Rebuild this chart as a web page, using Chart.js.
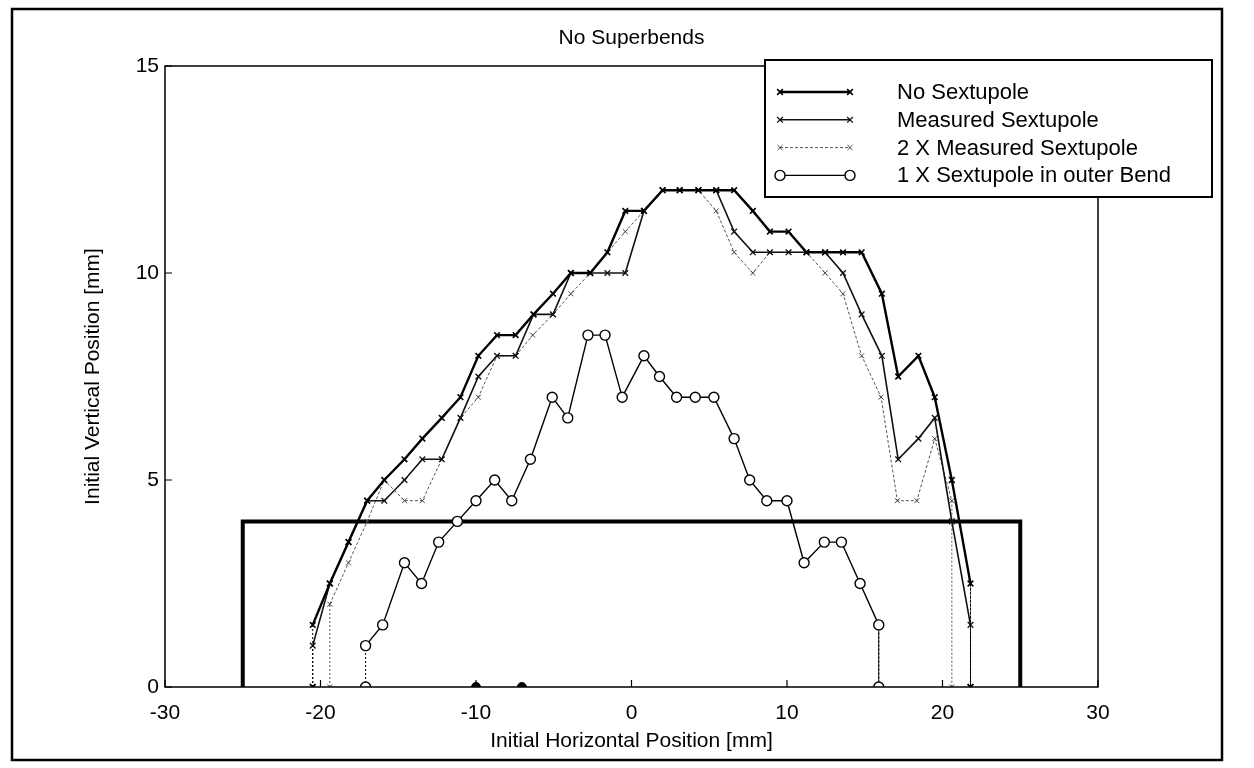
<!DOCTYPE html>
<html>
<head>
<meta charset="utf-8">
<script src="https://cdn.jsdelivr.net/npm/chart.js@4.4.1/dist/chart.umd.min.js"></script>
<style>
body { margin: 0; background: #fff; }
#wrap { width: 1254px; height: 768px; }
</style>
</head>
<body>
<div id="wrap"><canvas id="myChart" width="1254" height="768"></canvas></div>
<script>
// values [mm]
const noSextX = [-20.5, -20.5, -19.4, -18.2, -17.0, -15.9, -14.6, -13.45, -12.2, -11.0, -9.85, -8.65, -7.45, -6.3, -5.05, -3.9, -2.65, -1.55, -0.4, 0.8, 2.0, 3.1, 4.3, 5.45, 6.6, 7.8, 8.9, 10.1, 11.25, 12.45, 13.6, 14.8, 16.1, 17.15, 18.45, 19.5, 20.6, 21.8, 21.8];
const noSextY = [0, 1.5, 2.5, 3.5, 4.5, 5.0, 5.5, 6.0, 6.5, 7.0, 8.0, 8.5, 8.5, 9.0, 9.5, 10, 10, 10.5, 11.5, 11.5, 12, 12, 12, 12, 12, 11.5, 11, 11, 10.5, 10.5, 10.5, 10.5, 9.5, 7.5, 8.0, 7.0, 5.0, 2.5, 0];

const measX = [-20.5, -20.5, -19.4, -18.2, -17.0, -15.9, -14.6, -13.45, -12.2, -11.0, -9.85, -8.65, -7.45, -6.3, -5.05, -3.9, -2.65, -1.55, -0.4, 0.8, 2.0, 3.1, 4.3, 5.45, 6.6, 7.8, 8.9, 10.1, 11.25, 12.45, 13.6, 14.8, 16.1, 17.15, 18.45, 19.5, 20.6, 21.8, 21.8];
const measY = [0, 1.0, 2.5, 3.5, 4.5, 4.5, 5.0, 5.5, 5.5, 6.5, 7.5, 8.0, 8.0, 9.0, 9.0, 10, 10, 10, 10, 11.5, 12, 12, 12, 12, 11.0, 10.5, 10.5, 10.5, 10.5, 10.5, 10.0, 9.0, 8.0, 5.5, 6.0, 6.5, 4.0, 1.5, 0];

const twoX = [-19.4, -19.4, -18.2, -17.0, -15.9, -14.6, -13.45, -12.2, -11.0, -9.85, -8.65, -7.45, -6.35, -5.05, -3.9, -2.65, -1.55, -0.4, 0.8, 2.0, 3.1, 4.3, 5.45, 6.6, 7.8, 8.9, 10.1, 11.25, 12.45, 13.6, 14.8, 16.05, 17.1, 18.35, 19.5, 20.6, 20.6];
const twoY = [0, 2.0, 3.0, 4.0, 5.0, 4.5, 4.5, 5.5, 6.5, 7.0, 8.0, 8.0, 8.5, 9.0, 9.5, 10.0, 10.5, 11.0, 11.5, 12, 12, 12, 11.5, 10.5, 10.0, 10.5, 10.5, 10.5, 10.0, 9.5, 8.0, 7.0, 4.5, 4.5, 6.0, 4.5, 0];

const outerX = [-17.1, -17.1, -16.0, -14.6, -13.5, -12.4, -11.2, -10.0, -8.8, -7.7, -6.5, -5.1, -4.1, -2.8, -1.7, -0.6, 0.8, 1.8, 2.9, 4.1, 5.3, 6.6, 7.6, 8.7, 10.0, 11.1, 12.4, 13.5, 14.7, 15.9, 15.9];
const outerY = [0, 1.0, 1.5, 3.0, 2.5, 3.5, 4.0, 4.5, 5.0, 4.5, 5.5, 7.0, 6.5, 8.5, 8.5, 7.0, 8.0, 7.5, 7.0, 7.0, 7.0, 6.0, 5.0, 4.5, 4.5, 3.0, 3.5, 3.5, 2.5, 1.5, 0];

const dotX = [-10.0, -7.05];
const dotY = [0, 0];

const boxX = [-25, -25, 25, 25];
const boxY = [0, 4, 4, 0];

const xTicks = [-30, -20, -10, 0, 10, 20, 30];
const yTicks = [0, 5, 10, 15];

const labels = ["No Sextupole", "Measured Sextupole", "2 X Measured Sextupole", "1 X Sextupole in outer Bend"];

function pts(xs, ys) {
    return xs.map((x, i) => ({ x: x, y: ys[i] }));
}

const FONT = '"Liberation Sans", Arial, sans-serif';

// vertical drop lines at the ends are drawn thin and dotted in the original
const dropSeg = {
    borderWidth: ctx => ctx.p0.parsed.x === ctx.p1.parsed.x ? 1 : undefined,
    borderDash: ctx => ctx.p0.parsed.x === ctx.p1.parsed.x ? [2, 2] : undefined
};

const plotFrame = {
    id: "plotFrame",
    afterDraw(chart) {
        const ctx = chart.ctx;
        const a = chart.chartArea;
        const xs = chart.scales.x;
        const ys = chart.scales.y;
        ctx.save();
        ctx.strokeStyle = "#000";

        // axes box
        ctx.lineWidth = 1.5;
        ctx.strokeRect(a.left, a.top, a.right - a.left, a.bottom - a.top);

        // inner ticks
        ctx.lineWidth = 1.2;
        ctx.beginPath();
        xTicks.forEach(v => {
            const px = xs.getPixelForValue(v);
            ctx.moveTo(px, a.bottom);
            ctx.lineTo(px, a.bottom - 7);
        });
        yTicks.forEach(v => {
            const py = ys.getPixelForValue(v);
            ctx.moveTo(a.left, py);
            ctx.lineTo(a.left + 7, py);
        });
        ctx.stroke();

        // figure border
        ctx.lineWidth = 2.5;
        ctx.strokeRect(12, 9, 1210, 751);

        // title
        ctx.fillStyle = "#000";
        ctx.font = "21px " + FONT;
        ctx.textAlign = "center";
        ctx.textBaseline = "middle";
        ctx.fillText("No Superbends", (a.left + a.right) / 2, 38);

        // legend
        const lx = 765, ly = 60, lw = 447, lh = 137;
        ctx.fillStyle = "#fff";
        ctx.fillRect(lx, ly, lw, lh);
        ctx.lineWidth = 2;
        ctx.strokeRect(lx, ly, lw, lh);
        ctx.textAlign = "left";
        ctx.font = "22px " + FONT;
        for (let i = 0; i < 4; i++) {
            const ds = chart.data.datasets[i];
            const y = 92 + i * 27.8;
            ctx.save();
            ctx.strokeStyle = ds.borderColor;
            ctx.lineWidth = ds.borderWidth;
            ctx.setLineDash(ds.borderDash || []);
            ctx.beginPath();
            ctx.moveTo(780, y);
            ctx.lineTo(850, y);
            ctx.stroke();
            ctx.setLineDash([]);
            ctx.lineWidth = ds.pointBorderWidth;
            ctx.strokeStyle = ds.pointBorderColor;
            ctx.fillStyle = ds.pointBackgroundColor;
            [780, 850].forEach(px => {
                Chart.helpers.drawPoint(ctx, {
                    pointStyle: ds.pointStyle, radius: ds.pointRadius,
                    rotation: 0, borderWidth: ds.pointBorderWidth
                }, px, y);
            });
            ctx.restore();
            ctx.fillStyle = "#000";
            ctx.fillText(labels[i], 897, y + 1);
        }
        ctx.restore();
    }
};

const ctx = document.getElementById("myChart").getContext("2d");
const chart = new Chart(ctx, {
    type: "scatter",
    data: {
        datasets: [{
            label: labels[0],
            data: pts(noSextX, noSextY),
            showLine: true,
            borderColor: "#000",
            borderWidth: 2.4,
            pointStyle: "crossRot",
            pointRadius: 4,
            pointBorderWidth: 1.6,
            pointBorderColor: "#000",
            pointBackgroundColor: "#000",
            segment: dropSeg
        }, {
            label: labels[1],
            data: pts(measX, measY),
            showLine: true,
            borderColor: "#111",
            borderWidth: 1.6,
            pointStyle: "crossRot",
            pointRadius: 4,
            pointBorderWidth: 1.3,
            pointBorderColor: "#111",
            pointBackgroundColor: "#111",
            segment: dropSeg
        }, {
            label: labels[2],
            data: pts(twoX, twoY),
            showLine: true,
            borderColor: "#555",
            borderWidth: 1,
            borderDash: [3, 2],
            pointStyle: "crossRot",
            pointRadius: 3.5,
            pointBorderWidth: 1,
            pointBorderColor: "#444",
            pointBackgroundColor: "#444",
            segment: dropSeg
        }, {
            label: labels[3],
            data: pts(outerX, outerY),
            showLine: true,
            borderColor: "#000",
            borderWidth: 1.4,
            pointStyle: "circle",
            pointRadius: 5,
            pointBorderWidth: 1.4,
            pointBorderColor: "#000",
            pointBackgroundColor: "#fff",
            segment: dropSeg
        }, {
            label: "dots",
            data: pts(dotX, dotY),
            showLine: false,
            pointStyle: "circle",
            pointRadius: 4.5,
            pointBorderWidth: 1,
            pointBorderColor: "#000",
            pointBackgroundColor: "#000"
        }, {
            label: "box",
            data: pts(boxX, boxY),
            showLine: true,
            borderColor: "#000",
            borderWidth: 4,
            borderJoinStyle: "miter",
            pointRadius: 0
        }]
    },
    options: {
        responsive: false,
        animation: false,
        layout: { padding: { left: 0, right: 156, top: 66, bottom: 0 } },
        plugins: {
            legend: { display: false },
            title: { display: false },
            tooltip: { enabled: false }
        },
        scales: {
            x: {
                type: "linear",
                min: -30,
                max: 30,
                afterFit: s => { s.height = 81; },
                afterBuildTicks: s => { s.ticks = xTicks.map(v => ({ value: v })); },
                grid: { display: false, drawTicks: false },
                border: { display: false },
                ticks: { color: "#000", padding: 14, font: { family: FONT, size: 21 } },
                title: {
                    display: true,
                    text: "Initial Horizontal Position [mm]",
                    color: "#000",
                    font: { family: FONT, size: 21 },
                    padding: { top: 0, bottom: 14 }
                }
            },
            y: {
                type: "linear",
                min: 0,
                max: 15,
                afterFit: s => { s.width = 165; },
                afterBuildTicks: s => { s.ticks = yTicks.map(v => ({ value: v })); },
                grid: { display: false, drawTicks: false },
                border: { display: false },
                ticks: { color: "#000", padding: 6, font: { family: FONT, size: 21 } },
                title: {
                    display: true,
                    text: "Initial Vertical Position [mm]",
                    color: "#000",
                    font: { family: FONT, size: 21 },
                    padding: { top: 81, bottom: 0 }
                }
            }
        }
    },
    plugins: [plotFrame]
});
</script>
</body>
</html>
